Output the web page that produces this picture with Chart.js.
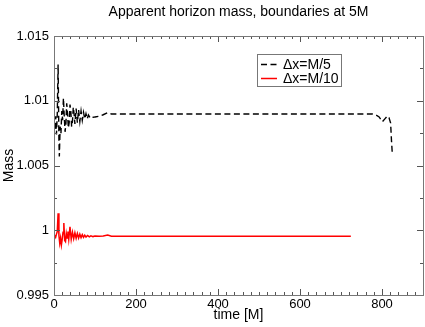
<!DOCTYPE html>
<html>
<head>
<meta charset="utf-8">
<script src="https://cdn.jsdelivr.net/npm/chart.js@4"></script>
<style>
  html, body { margin: 0; padding: 0; background: #fff; }
  #wrap { width: 425px; height: 327px; }
</style>
</head>
<body>
<div id="wrap"><canvas id="massChart" width="425" height="327"></canvas></div>
<script>
// time [M] and mass for dx = M/5
const coarseTime = [0, 2, 4, 6, 8, 10, 12, 13, 15, 17, 19, 21, 23, 25, 27, 29, 31, 33, 35, 37, 39, 41, 43, 45, 47, 49, 51, 54, 57, 60, 63, 66, 69, 72, 75, 78, 81, 84, 88, 92, 96, 100, 110, 120, 131, 140, 200, 300, 400, 500, 600, 700, 776, 785, 793, 801, 807, 813, 817, 821, 823, 825];
const coarseMass = [1.0085, 1.0078, 1.0088, 1.0074, 1.0090, 1.0128, 1.0070, 1.0057, 1.0080, 1.0075, 1.0092, 1.0085, 1.0102, 1.0088, 1.0076, 1.0082, 1.0098, 1.0090, 1.0079, 1.0083, 1.0097, 1.0092, 1.0080, 1.0084, 1.0095, 1.0090, 1.0082, 1.0094, 1.0083, 1.0093, 1.0084, 1.0092, 1.0085, 1.0091, 1.0086, 1.0090, 1.0086, 1.0089, 1.0087, 1.0088, 1.00872, 1.00875, 1.0088, 1.00892, 1.00908, 1.00898, 1.00898, 1.00898, 1.00898, 1.00898, 1.00898, 1.00898, 1.00898, 1.00890, 1.00875, 1.00838, 1.00860, 1.00882, 1.00870, 1.00828, 1.00700, 1.00597];

// time [M] and mass for dx = M/10
const fineTime = [0, 2, 4, 6, 8, 10, 12, 14, 16, 18, 20, 22, 24, 26, 28, 30, 32, 34, 36, 39, 42, 45, 48, 51, 54, 57, 60, 63, 66, 69, 72, 75, 78, 82, 86, 90, 95, 100, 110, 120, 131, 140, 200, 300, 400, 500, 600, 724];
const fineMass = [0.99963, 0.99958, 0.99945, 0.99970, 0.99990, 1.00131, 0.99960, 0.99900, 0.99940, 0.99886, 0.99930, 0.99985, 1.00056, 0.99920, 0.99911, 0.99975, 0.99940, 0.99990, 0.99930, 1.00027, 0.99930, 0.99985, 0.99935, 0.99980, 0.99938, 0.99975, 0.99940, 0.99970, 0.99943, 0.99966, 0.99945, 0.99962, 0.99947, 0.99960, 0.99949, 0.99957, 0.99951, 0.99955, 0.99953, 0.99955, 0.99963, 0.99954, 0.99953, 0.99953, 0.99953, 0.99953, 0.99953, 0.99953];

const seriesLabels = ["\u0394x=M/5", "\u0394x=M/10"];
const xTicks = [0, 200, 400, 600, 800];
const yTicks = [0.995, 1, 1.005, 1.01, 1.015];

const FONT = "'Liberation Sans', Arial, sans-serif";

function toPoints(xs, ys) {
    return xs.map((x, i) => ({ x: x, y: ys[i] }));
}

// frame, inward ticks, title, axis titles and legend
const decorations = {
    id: "decorations",
    afterDraw(chart) {
        const c = chart.ctx;
        const a = chart.chartArea;
        const xs = chart.scales.x;
        const ys = chart.scales.y;
        c.save();

        // ticks
        c.strokeStyle = "#555";
        c.lineWidth = 1;
        c.beginPath();
        for (let t = 0; t <= 900; t += 20) {
            const px = Math.round(xs.getPixelForValue(t)) + 0.5;
            const len = t % 200 === 0 ? 6 : 3;
            c.moveTo(px, a.bottom); c.lineTo(px, a.bottom - len);
            c.moveTo(px, a.top); c.lineTo(px, a.top + len);
        }
        for (let k = 0; k <= 8; k++) {
            const v = 0.995 + k * 0.0025;
            const py = Math.round(ys.getPixelForValue(v)) + 0.5;
            const len = k % 2 === 0 ? 6 : 3;
            c.moveTo(a.left, py); c.lineTo(a.left + len, py);
            c.moveTo(a.right, py); c.lineTo(a.right - len, py);
        }
        c.stroke();

        // frame
        c.strokeStyle = "#777";
        c.strokeRect(Math.round(a.left) + 0.5, Math.round(a.top) + 0.5,
            Math.round(a.right - a.left), Math.round(a.bottom - a.top));

        // title and axis titles
        c.fillStyle = "#000";
        c.font = "14px " + FONT;
        c.textAlign = "center";
        c.textBaseline = "middle";
        c.fillText("Apparent horizon mass, boundaries at 5M", (a.left + a.right) / 2, 12);
        c.fillText("time [M]", (a.left + a.right) / 2, 315);
        c.save();
        c.translate(9, (a.top + a.bottom) / 2);
        c.rotate(-Math.PI / 2);
        c.fillText("Mass", 0, 0);
        c.restore();

        // legend
        c.strokeStyle = "#777";
        c.strokeRect(257.5, 54.5, 84, 32);
        c.textAlign = "left";
        c.font = "14px " + FONT;
        chart.data.datasets.forEach((ds, i) => {
            const y = 64.5 + i * 14;
            c.beginPath();
            c.strokeStyle = ds.borderColor;
            c.lineWidth = 1.5;
            c.setLineDash(ds.borderDash || []);
            c.moveTo(261, y);
            c.lineTo(277, y);
            c.stroke();
            c.setLineDash([]);
            c.fillText(ds.label, 283, y + 0.5);
        });
        c.restore();
    }
};

new Chart(document.getElementById("massChart").getContext("2d"), {
    type: "line",
    data: {
        datasets: [
            {
                label: seriesLabels[0],
                data: toPoints(coarseTime, coarseMass),
                borderColor: "#000",
                borderWidth: 1.4,
                borderDash: [6, 3.5],
                pointRadius: 0,
                tension: 0,
                fill: false
            },
            {
                label: seriesLabels[1],
                data: toPoints(fineTime, fineMass),
                borderColor: "#ff0000",
                borderWidth: 1.5,
                pointRadius: 0,
                tension: 0,
                fill: false
            }
        ]
    },
    options: {
        responsive: false,
        animation: false,
        devicePixelRatio: 1,
        layout: { padding: { top: 36, right: 2, left: 0, bottom: 0 } },
        plugins: {
            legend: { display: false },
            title: { display: false },
            tooltip: { enabled: false }
        },
        scales: {
            x: {
                type: "linear",
                min: 0,
                max: 900,
                afterFit: (s) => { s.height = 32; },
                afterBuildTicks: (s) => { s.ticks = xTicks.map(v => ({ value: v })); },
                grid: { display: false, drawTicks: false },
                border: { display: false },
                ticks: {
                    padding: 2,
                    color: "#000",
                    font: { family: FONT, size: 13 },
                    maxRotation: 0,
                    callback: (v) => String(v)
                }
            },
            y: {
                type: "linear",
                min: 0.995,
                max: 1.015,
                afterFit: (s) => { s.width = 54; },
                afterBuildTicks: (s) => { s.ticks = yTicks.map(v => ({ value: v })); },
                grid: { display: false, drawTicks: false },
                border: { display: false },
                ticks: {
                    padding: 5,
                    color: "#000",
                    font: { family: FONT, size: 13 },
                    callback: (v) => String(parseFloat(v.toFixed(4)))
                }
            }
        }
    },
    plugins: [decorations]
});
</script>
</body>
</html>
